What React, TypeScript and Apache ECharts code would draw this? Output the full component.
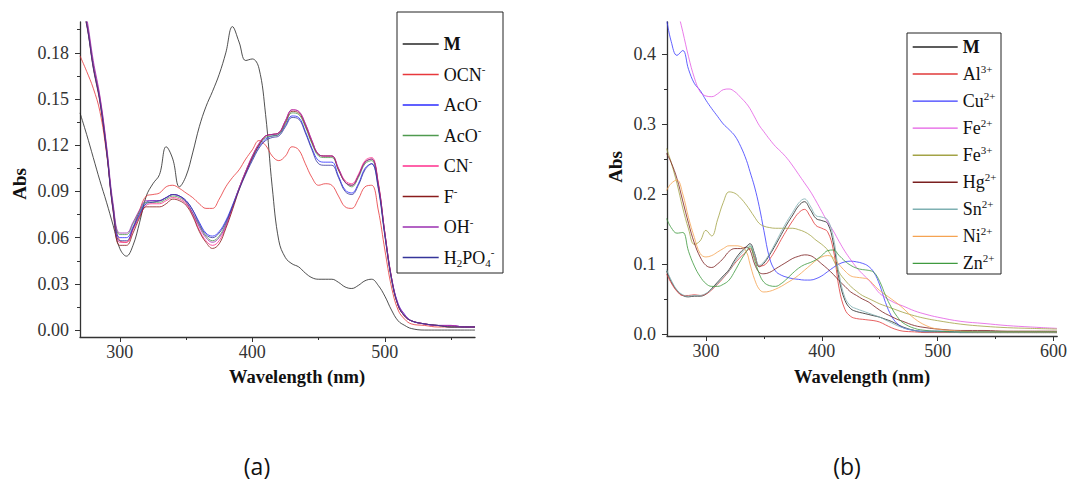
import React, { useEffect, useRef } from "react";
import * as echarts from "echarts";

const SERIF = "Liberation Serif";

// ---------- Panel (a) ----------
const wlA = [270, 275, 280, 285, 290, 295, 300, 305, 310, 315,
  320, 325, 330, 335, 340, 345, 350, 355, 360, 365,
  370, 375, 380, 385, 390, 395, 400, 405, 410, 415,
  420, 425, 430, 435, 440, 445, 450, 455, 460, 465,
  470, 475, 480, 485, 490, 495, 500, 505, 510, 515,
  520, 530, 540, 550, 560, 568];

const aM = [0.141, 0.127, 0.112, 0.097, 0.083, 0.068, 0.053, 0.048, 0.055, 0.070,
  0.087, 0.095, 0.101, 0.119, 0.111, 0.093, 0.100, 0.115, 0.132, 0.145,
  0.155, 0.166, 0.180, 0.197, 0.187, 0.175, 0.176, 0.170, 0.140, 0.093,
  0.058, 0.047, 0.043, 0.041, 0.037, 0.034, 0.033, 0.033, 0.033, 0.031,
  0.028, 0.027, 0.029, 0.032, 0.033, 0.029, 0.022, 0.013, 0.006, 0.003,
  0.001, 0.000, 0.000, 0.000, 0.000, 0.000];
const aOCN = [0.178, 0.168, 0.157, 0.142, 0.115, 0.080, 0.058, 0.057, 0.066, 0.078,
  0.087, 0.088, 0.089, 0.093, 0.094, 0.092, 0.089, 0.086, 0.082, 0.079,
  0.079, 0.085, 0.093, 0.099, 0.104, 0.111, 0.117, 0.123, 0.120, 0.113,
  0.110, 0.113, 0.119, 0.117, 0.108, 0.099, 0.094, 0.095, 0.094, 0.087,
  0.080, 0.079, 0.085, 0.093, 0.094, 0.078, 0.052, 0.028, 0.013, 0.007,
  0.004, 0.003, 0.002, 0.002, 0.002, 0.002];
const aAcO1 = [0.216, 0.199, 0.171, 0.149, 0.117, 0.079, 0.060, 0.060, 0.067, 0.076,
  0.083, 0.084, 0.084, 0.086, 0.088, 0.087, 0.084, 0.078, 0.070, 0.063,
  0.061, 0.064, 0.071, 0.081, 0.092, 0.102, 0.111, 0.119, 0.124, 0.126,
  0.127, 0.133, 0.139, 0.138, 0.129, 0.118, 0.110, 0.109, 0.109, 0.100,
  0.091, 0.089, 0.095, 0.105, 0.108, 0.093, 0.062, 0.034, 0.017, 0.010,
  0.006, 0.004, 0.003, 0.003, 0.002, 0.002];
const aAcO2 = [0.218, 0.200, 0.172, 0.150, 0.118, 0.080, 0.062, 0.062, 0.069, 0.077,
  0.083, 0.083, 0.083, 0.085, 0.087, 0.086, 0.083, 0.076, 0.068, 0.061,
  0.058, 0.061, 0.069, 0.080, 0.092, 0.103, 0.112, 0.120, 0.125, 0.126,
  0.127, 0.134, 0.141, 0.140, 0.132, 0.121, 0.113, 0.112, 0.112, 0.104,
  0.096, 0.093, 0.099, 0.108, 0.110, 0.094, 0.062, 0.033, 0.016, 0.009,
  0.006, 0.004, 0.003, 0.002, 0.002, 0.002];
const aCN = [0.220, 0.201, 0.173, 0.151, 0.119, 0.078, 0.057, 0.057, 0.065, 0.074,
  0.081, 0.082, 0.082, 0.084, 0.086, 0.085, 0.082, 0.075, 0.065, 0.058,
  0.055, 0.058, 0.067, 0.079, 0.092, 0.103, 0.113, 0.121, 0.126, 0.127,
  0.128, 0.136, 0.143, 0.142, 0.134, 0.123, 0.114, 0.113, 0.113, 0.105,
  0.097, 0.095, 0.101, 0.110, 0.112, 0.096, 0.063, 0.034, 0.016, 0.009,
  0.006, 0.004, 0.003, 0.003, 0.002, 0.002];
const aF = [0.214, 0.198, 0.170, 0.148, 0.116, 0.077, 0.055, 0.055, 0.063, 0.073,
  0.080, 0.080, 0.080, 0.082, 0.085, 0.084, 0.081, 0.074, 0.064, 0.057,
  0.053, 0.056, 0.066, 0.078, 0.091, 0.102, 0.112, 0.120, 0.126, 0.127,
  0.128, 0.135, 0.142, 0.141, 0.133, 0.122, 0.114, 0.113, 0.113, 0.104,
  0.096, 0.094, 0.100, 0.109, 0.111, 0.095, 0.063, 0.034, 0.016, 0.009,
  0.006, 0.004, 0.003, 0.002, 0.002, 0.002];
const aOH = [0.222, 0.203, 0.175, 0.152, 0.120, 0.082, 0.063, 0.063, 0.070, 0.078,
  0.084, 0.084, 0.084, 0.086, 0.088, 0.087, 0.083, 0.076, 0.067, 0.060,
  0.057, 0.060, 0.068, 0.080, 0.092, 0.103, 0.113, 0.121, 0.126, 0.127,
  0.128, 0.136, 0.143, 0.142, 0.134, 0.123, 0.114, 0.113, 0.113, 0.105,
  0.096, 0.094, 0.100, 0.109, 0.111, 0.095, 0.063, 0.034, 0.017, 0.010,
  0.006, 0.004, 0.003, 0.003, 0.002, 0.002];
const aH2PO4 = [0.217, 0.199, 0.171, 0.149, 0.117, 0.078, 0.058, 0.058, 0.066, 0.075,
  0.082, 0.083, 0.084, 0.086, 0.088, 0.087, 0.084, 0.078, 0.069, 0.062,
  0.060, 0.063, 0.070, 0.080, 0.091, 0.101, 0.110, 0.118, 0.123, 0.125,
  0.126, 0.132, 0.138, 0.137, 0.128, 0.117, 0.108, 0.107, 0.107, 0.099,
  0.090, 0.088, 0.094, 0.104, 0.108, 0.092, 0.061, 0.033, 0.016, 0.009,
  0.006, 0.004, 0.003, 0.002, 0.002, 0.002];

const labelsA = ["{b|M}", "{n|OCN}{p|-}", "{n|AcO}{p|-}", "{n|AcO}{p|-}", "{n|CN}{p|-}",
  "{n|F}{p|-}", "{n|OH}{p|-}", "{n|H}{s|2}{n|PO}{s|4}{p|-}"];
const colorsA = ["#262626", "#e8383c", "#2b2bff", "#4f9a4f", "#ff2e8c", "#8a1c1c", "#9a2fb0", "#35359a"];
const dataA = [aM, aOCN, aAcO1, aAcO2, aCN, aF, aOH, aH2PO4];

const xTicksA = [300, 400, 500];
const xMinorA = [350, 450, 550];
const yTicksA = [0, 0.03, 0.06, 0.09, 0.12, 0.15, 0.18];
const yMinorA = [0.015, 0.045, 0.075, 0.105, 0.135, 0.165, 0.195];

// ---------- Panel (b) ----------
const wlB = [266, 270, 275, 280, 285, 290, 295, 300, 305, 310,
  315, 320, 325, 330, 335, 338, 342, 346, 350, 355,
  360, 365, 370, 375, 380, 385, 390, 395, 400, 405,
  410, 415, 420, 425, 430, 435, 440, 445, 450, 455,
  460, 465, 470, 480, 490, 500, 520, 540, 560, 580,
  603];

const bM = [0.090, 0.075, 0.062, 0.055, 0.053, 0.054, 0.054, 0.057, 0.065, 0.074,
  0.083, 0.092, 0.106, 0.117, 0.125, 0.129, 0.115, 0.096, 0.101, 0.113,
  0.127, 0.142, 0.157, 0.170, 0.183, 0.189, 0.178, 0.165, 0.162, 0.158,
  0.130, 0.078, 0.048, 0.036, 0.032, 0.030, 0.028, 0.026, 0.024, 0.021,
  0.018, 0.014, 0.010, 0.005, 0.003, 0.003, 0.002, 0.002, 0.002, 0.002,
  0.002];
const bAl = [0.086, 0.073, 0.061, 0.055, 0.055, 0.056, 0.055, 0.057, 0.063, 0.071,
  0.080, 0.090, 0.101, 0.110, 0.118, 0.122, 0.110, 0.097, 0.098, 0.107,
  0.120, 0.135, 0.149, 0.162, 0.173, 0.178, 0.168, 0.155, 0.151, 0.146,
  0.120, 0.065, 0.035, 0.025, 0.022, 0.021, 0.020, 0.019, 0.017, 0.013,
  0.009, 0.006, 0.004, 0.003, 0.002, 0.002, 0.002, 0.002, 0.002, 0.002,
  0.002];
const bCu = [0.450, 0.418, 0.398, 0.405, 0.378, 0.358, 0.348, 0.334, 0.322, 0.311,
  0.300, 0.292, 0.283, 0.268, 0.248, 0.232, 0.210, 0.182, 0.148, 0.108,
  0.090, 0.084, 0.081, 0.079, 0.078, 0.077, 0.077, 0.079, 0.083, 0.089,
  0.095, 0.100, 0.103, 0.104, 0.103, 0.101, 0.097, 0.088, 0.070, 0.045,
  0.026, 0.015, 0.009, 0.005, 0.004, 0.004, 0.003, 0.003, 0.003, 0.003,
  0.003];
const bFe2 = [0.530, 0.500, 0.466, 0.432, 0.396, 0.366, 0.346, 0.340, 0.339, 0.343,
  0.349, 0.350, 0.346, 0.338, 0.329, 0.322, 0.310, 0.298, 0.289, 0.278,
  0.268, 0.260, 0.251, 0.240, 0.228, 0.216, 0.204, 0.190, 0.175, 0.160,
  0.147, 0.132, 0.118, 0.106, 0.095, 0.086, 0.078, 0.068, 0.058, 0.052,
  0.047, 0.043, 0.040, 0.033, 0.028, 0.024, 0.018, 0.015, 0.012, 0.010,
  0.008];
const bFe3 = [0.265, 0.245, 0.215, 0.180, 0.150, 0.128, 0.133, 0.148, 0.140, 0.163,
  0.188, 0.203, 0.201, 0.194, 0.184, 0.177, 0.167, 0.158, 0.154, 0.152,
  0.151, 0.151, 0.151, 0.151, 0.149, 0.146, 0.141, 0.134, 0.128, 0.120,
  0.106, 0.088, 0.077, 0.068, 0.061, 0.055, 0.051, 0.047, 0.043, 0.040,
  0.037, 0.034, 0.031, 0.026, 0.022, 0.019, 0.014, 0.011, 0.009, 0.008,
  0.007];
const bHg = [0.258, 0.245, 0.222, 0.190, 0.158, 0.130, 0.110, 0.098, 0.095, 0.100,
  0.108, 0.118, 0.122, 0.122, 0.124, 0.120, 0.100, 0.088, 0.086, 0.088,
  0.093, 0.098, 0.103, 0.108, 0.111, 0.113, 0.112, 0.107, 0.100, 0.093,
  0.085, 0.076, 0.068, 0.060, 0.055, 0.050, 0.046, 0.040, 0.034, 0.029,
  0.025, 0.021, 0.018, 0.012, 0.009, 0.007, 0.005, 0.005, 0.004, 0.004,
  0.004];
const bSn = [0.092, 0.077, 0.063, 0.056, 0.054, 0.055, 0.055, 0.058, 0.064, 0.072,
  0.081, 0.090, 0.103, 0.114, 0.123, 0.127, 0.114, 0.098, 0.103, 0.115,
  0.130, 0.146, 0.161, 0.174, 0.187, 0.193, 0.183, 0.169, 0.167, 0.163,
  0.138, 0.085, 0.052, 0.040, 0.036, 0.033, 0.030, 0.027, 0.024, 0.020,
  0.016, 0.012, 0.009, 0.005, 0.003, 0.003, 0.002, 0.002, 0.002, 0.002,
  0.002];
const bNi = [0.205, 0.215, 0.220, 0.200, 0.166, 0.138, 0.115, 0.110, 0.112, 0.117,
  0.122, 0.126, 0.126, 0.125, 0.117, 0.100, 0.078, 0.064, 0.060, 0.061,
  0.064, 0.068, 0.073, 0.078, 0.084, 0.091, 0.098, 0.105, 0.110, 0.112,
  0.109, 0.099, 0.090, 0.083, 0.081, 0.080, 0.078, 0.070, 0.062, 0.056,
  0.050, 0.044, 0.037, 0.022, 0.012, 0.007, 0.004, 0.003, 0.003, 0.003,
  0.003];
const bZn = [0.165, 0.152, 0.144, 0.145, 0.118, 0.097, 0.082, 0.072, 0.068, 0.068,
  0.071, 0.077, 0.090, 0.105, 0.118, 0.125, 0.106, 0.086, 0.074, 0.069,
  0.068, 0.072, 0.079, 0.087, 0.094, 0.099, 0.102, 0.106, 0.112, 0.119,
  0.120, 0.112, 0.104, 0.098, 0.094, 0.092, 0.091, 0.088, 0.075, 0.055,
  0.038, 0.025, 0.016, 0.008, 0.005, 0.004, 0.003, 0.003, 0.003, 0.003,
  0.003];

const labelsB = ["{b|M}", "{n|Al}{p|3+}", "{n|Cu}{p|2+}", "{n|Fe}{p|2+}", "{n|Fe}{p|3+}",
  "{n|Hg}{p|2+}", "{n|Sn}{p|2+}", "{n|Ni}{p|2+}", "{n|Zn}{p|2+}"];
const colorsB = ["#262626", "#e03a3a", "#3b3bff", "#e45ce4", "#a3a346", "#7a1f1f", "#7eb0b2", "#f5a352", "#3f9a3f"];
const dataB = [bM, bAl, bCu, bFe2, bFe3, bHg, bSn, bNi, bZn];

const xTicksB = [300, 400, 500, 600];
const xMinorB = [350, 450, 550];
const yTicksB = [0, 0.1, 0.2, 0.3, 0.4];
const yMinorB = [0.05, 0.15, 0.25, 0.35];

const AX = "#333";

function xMajor(grid: number, min: number, max: number, ticks: number[]) {
  return {
    type: "value", gridIndex: grid, min, max, position: "bottom",
    axisLine: { show: true, onZero: false, lineStyle: { color: AX, width: 1.3 } },
    axisTick: { show: true, length: 5, customValues: ticks, lineStyle: { color: AX, width: 1 } },
    axisLabel: { show: true, customValues: ticks, margin: 6, fontSize: 18, fontFamily: SERIF, color: "#333" },
    splitLine: { show: false },
  };
}
function xMinor(grid: number, min: number, max: number, ticks: number[]) {
  return {
    type: "value", gridIndex: grid, min, max, position: "bottom",
    axisLine: { show: false, onZero: false },
    axisTick: { show: true, length: 3, customValues: ticks, lineStyle: { color: AX, width: 1 } },
    axisLabel: { show: false },
    splitLine: { show: false },
  };
}
function yMajor(grid: number, min: number, max: number, ticks: number[], digits: number) {
  return {
    type: "value", gridIndex: grid, min, max, position: "left",
    axisLine: { show: true, onZero: false, lineStyle: { color: AX, width: 1.3 } },
    axisTick: { show: true, length: 5, customValues: ticks, lineStyle: { color: AX, width: 1 } },
    axisLabel: {
      show: true, customValues: ticks, margin: 11, fontSize: 18, fontFamily: SERIF, color: "#333",
      formatter: (v: number) => v.toFixed(digits),
    },
    splitLine: { show: false },
  };
}
function yMinor(grid: number, min: number, max: number, ticks: number[]) {
  return {
    type: "value", gridIndex: grid, min, max, position: "left",
    axisLine: { show: false, onZero: false },
    axisTick: { show: true, length: 3, customValues: ticks, lineStyle: { color: AX, width: 1 } },
    axisLabel: { show: false },
    splitLine: { show: false },
  };
}

const rich = {
  n: { fontFamily: SERIF, fontSize: 18, color: "#111", lineHeight: 22, verticalAlign: "middle" },
  b: { fontFamily: SERIF, fontSize: 18, fontWeight: "bold", color: "#111", lineHeight: 22, verticalAlign: "middle" },
  p: { fontFamily: SERIF, fontSize: 11, color: "#111", lineHeight: 12, verticalAlign: "top" },
  s: { fontFamily: SERIF, fontSize: 11, color: "#111", lineHeight: 12, verticalAlign: "bottom" },
};

export default function App() {
  const ref = useRef<HTMLDivElement>(null);
  useEffect(() => {
    document.body.style.margin = "0";
    const chart = echarts.init(ref.current!, null, { renderer: "svg" });
    const namesA = labelsA.map((_, i) => "a" + i);
    const namesB = labelsB.map((_, i) => "b" + i);
    const labelMap: Record<string, string> = {};
    namesA.forEach((n, i) => (labelMap[n] = labelsA[i]));
    namesB.forEach((n, i) => (labelMap[n] = labelsB[i]));

    const series: any[] = [];
    dataA.forEach((vals, i) => {
      series.push({
        name: namesA[i], type: "line", xAxisIndex: 0, yAxisIndex: 0,
        data: wlA.map((w, j) => [w, vals[j]]), smooth: 0.4, symbol: "none", showSymbol: false,
        lineStyle: { color: colorsA[i], width: 0.9, opacity: 0.9 }, itemStyle: { color: colorsA[i] },
      });
    });
    dataB.forEach((vals, i) => {
      series.push({
        name: namesB[i], type: "line", xAxisIndex: 2, yAxisIndex: 2,
        data: wlB.map((w, j) => [w, vals[j]]), smooth: 0.4, symbol: "none", showSymbol: false,
        lineStyle: { color: colorsB[i], width: 0.9, opacity: 0.9 }, itemStyle: { color: colorsB[i] },
      });
    });

    const titleStyle = { fontFamily: SERIF, fontWeight: "bold", fill: "#111", align: "center", verticalAlign: "middle" };
    const legendCommon = {
      orient: "vertical", padding: 0, itemHeight: 10, selectedMode: false,
      formatter: (n: string) => labelMap[n],
      textStyle: { fontFamily: SERIF, fontSize: 18, color: "#111", rich },
      itemStyle: { opacity: 0, borderWidth: 0 },
      lineStyle: { type: "solid", width: 1.4, opacity: 1 },
    };

    chart.setOption({
      animation: false,
      grid: [
        { left: 80, top: 22, width: 395, height: 315 },
        { left: 667, top: 22, width: 394, height: 314 },
      ],
      xAxis: [
        xMajor(0, 270, 568, xTicksA),
        xMinor(0, 270, 568, xMinorA),
        xMajor(1, 266.4, 603.2, xTicksB),
        xMinor(1, 266.4, 603.2, xMinorB),
      ],
      yAxis: [
        yMajor(0, -0.0045, 0.2, yTicksA, 2),
        yMinor(0, -0.0045, 0.2, yMinorA),
        yMajor(1, -0.0029, 0.4457, yTicksB, 1),
        yMinor(1, -0.0029, 0.4457, yMinorB),
      ],
      legend: [
        { ...legendCommon, left: 402, top: 35, itemWidth: 36, itemGap: 10.5, data: namesA },
        { ...legendCommon, left: 912, top: 38, itemWidth: 45, itemGap: 7.05, data: namesB },
      ],
      graphic: [
        { type: "rect", shape: { x: 397, y: 12, width: 106, height: 261 }, style: { fill: "none", stroke: "#222", lineWidth: 1 } },
        { type: "rect", shape: { x: 907, y: 33, width: 94, height: 241 }, style: { fill: "none", stroke: "#222", lineWidth: 1 } },
        { type: "text", x: 19, y: 184, rotation: Math.PI / 2, style: { ...titleStyle, text: "Abs", fontSize: 19 } },
        { type: "text", x: 615, y: 167, rotation: Math.PI / 2, style: { ...titleStyle, text: "Abs", fontSize: 19 } },
        { type: "text", x: 297, y: 377, style: { ...titleStyle, text: "Wavelength (nm)", fontSize: 18.5 } },
        { type: "text", x: 862, y: 377, style: { ...titleStyle, text: "Wavelength (nm)", fontSize: 18.5 } },
        { type: "text", x: 257, y: 466, style: { text: "(a)", fontFamily: "Open Sans", fontSize: 23, fill: "#111", align: "center", verticalAlign: "middle" } },
        { type: "text", x: 847, y: 466, style: { text: "(b)", fontFamily: "Open Sans", fontSize: 23, fill: "#111", align: "center", verticalAlign: "middle" } },
      ],
      series,
    });
    return () => chart.dispose();
  }, []);
  return <div ref={ref} style={{ width: 1070, height: 481 }} />;
}
